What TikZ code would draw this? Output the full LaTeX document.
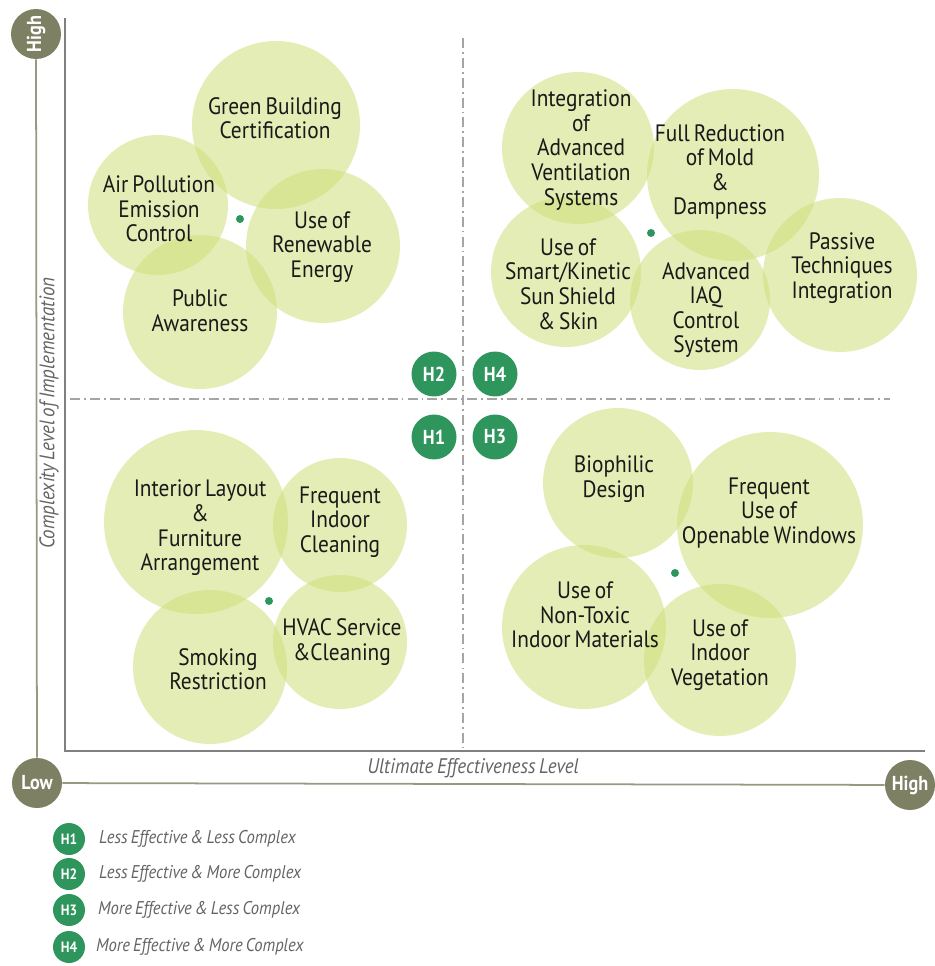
\documentclass[tikz,border=0pt]{standalone}
\usepackage{fontspec}
\setmainfont[FakeStretch=0.9, WordSpace=0.7]{PT Sans}
\definecolor{bubble}{RGB}{205,222,120}
\definecolor{hgreen}{RGB}{46,150,92}
\definecolor{olive}{RGB}{125,128,98}
\definecolor{framegray}{RGB}{128,128,128}
\definecolor{dashgray}{RGB}{165,165,165}
\definecolor{labgray}{RGB}{100,100,100}
\tikzset{bub/.style={circle, fill=bubble, fill opacity=.55, draw=none,
  minimum size=#1*0.4mm, inner sep=0pt}}
\tikzset{bubtxt/.style={align=center, text=black!90,
  font=\fontsize{13.5}{14}\selectfont}}
\tikzset{hbadge/.style={circle, fill=hgreen, text=white, inner sep=0pt,
  minimum size=9mm, font=\bfseries\fontsize{11.5}{11.5}\selectfont}}
\tikzset{legbadge/.style={hbadge, minimum size=6.4mm,
  font=\bfseries\fontsize{8.5}{8.5}\selectfont}}
\tikzset{axbadge/.style={circle, fill=olive, text=white, inner sep=0pt,
  minimum size=10mm, font=\bfseries\fontsize{11.5}{11.5}\selectfont}}
\tikzset{gdot/.style={circle, fill=hgreen, inner sep=0pt, minimum size=1.6mm}}
\tikzset{quad/.style={dashgray, line width=1pt,
  dash pattern=on 5.7pt off 2.3pt on 1pt off 2.3pt}}
\tikzset{axlab/.style={text=labgray, font=\itshape\fontsize{12}{12}\selectfont}}
\tikzset{legtxt/.style={text=labgray, anchor=west,
  font=\itshape\fontsize{10.5}{10.5}\selectfont}}

\begin{document}
\begin{tikzpicture}[x=0.02cm, y=-0.02cm]
\useasboundingbox (0,0) rectangle (935,966);

% axes
\node[axbadge, rotate=90] (hiy) at (36,34) {High};
\node[axbadge] (lo) at (37,783) {Low};
\node[axbadge] (hix) at (910,785) {High};
\coordinate (ftop) at (65,18);
\coordinate (fcorner) at (65,751);
\coordinate (fright) at (925,751);
\draw[olive!80, line width=1pt] (hiy) -- (lo);
\draw[olive!80, line width=1pt] (lo) -- (hix);
\draw[framegray, line width=1.1pt] (ftop) -- (fcorner) -- (fright);
\node[axlab] (xlab) at (473,768) {Ultimate Effectiveness Level};
\node[axlab, rotate=90] (ylab) at (49,413) {Complexity Level of Implementation};

% quadrant lines
\coordinate (vtop) at (463,38);
\coordinate (vbot) at (463,747);
\coordinate (hleft) at (70,399);
\coordinate (hright) at (890,399);
\draw[quad] (vtop) -- (vbot);
\draw[quad] (hleft) -- (hright);

% H2: top left
\node[bub=84] (gbc) at (276,125) {};
\node[bub=70] (apc) at (158,205) {};
\node[bub=77] (ure) at (323,246) {};
\node[bub=77] (paw) at (200,312) {};
\node[gdot] (d2) at (240,219) {};
\node[bubtxt] (gbc-t) at (275,118) {Green Building\\Certification};
\node[bubtxt] (apc-t) at (159,209) {Air Pollution\\Emission\\Control};
\node[bubtxt] (ure-t) at (322,247) {Use of\\Renewable\\Energy};
\node[bubtxt] (paw-t) at (200,311) {Public\\Awareness};

% H4: top right
\node[bub=76] (iav) at (578,148) {};
\node[bub=86] (frm) at (733,175) {};
\node[bub=75] (usk) at (566,272) {};
\node[bub=70] (iaq) at (700,300) {};
\node[bub=77] (pti) at (840,275) {};
\node[gdot] (d4) at (651,233) {};
\node[bubtxt] (iav-t) at (581,150) {Integration\\of\\Advanced\\Ventilation\\Systems};
\node[bubtxt] (frm-t) at (720,172) {Full Reduction\\of Mold\\\&\\Dampness};
\node[bubtxt] (usk-t) at (568,284) {Use of\\Smart/Kinetic\\Sun Shield\\\& Skin};
\node[bubtxt] (iaq-t) at (706,310) {Advanced\\IAQ\\Control\\System};
\node[bubtxt] (pti-t) at (842,268) {Passive\\Techniques\\Integration};

% H1: bottom left
\node[bub=92] (ilf) at (196,522) {};
\node[bub=67] (fic) at (340,525) {};
\node[bub=77] (smr) at (210,667) {};
\node[bub=67] (hvc) at (340,642) {};
\node[gdot] (d1) at (269,601) {};
\node[bubtxt] (ilf-t) at (200,528) {Interior Layout\\\&\\Furniture\\Arrangement};
\node[bubtxt] (fic-t) at (340,522) {Frequent\\Indoor\\Cleaning};
\node[bubtxt] (smr-t) at (218,669) {Smoking\\Restriction};
\node[bubtxt] (hvc-t) at (342,642) {HVAC Service\\\&Cleaning};

% H3: bottom right
\node[bub=75] (bio) at (618,483) {};
\node[bub=93] (fuw) at (770,525) {};
\node[bub=82] (ntm) at (584,627) {};
\node[bub=76] (uiv) at (720,660) {};
\node[gdot] (d3) at (675,573) {};
\node[bubtxt] (bio-t) at (614,479) {Biophilic\\Design};
\node[bubtxt] (fuw-t) at (769,513) {Frequent\\Use of\\Openable Windows};
\node[bubtxt] (ntm-t) at (585,615) {Use of\\Non-Toxic\\Indoor Materials};
\node[bubtxt] (uiv-t) at (720,655) {Use of\\Indoor\\Vegetation};

% quadrant badges
\node[hbadge] (h2) at (434,374) {H2};
\node[hbadge] (h4) at (495,374) {H4};
\node[hbadge] (h1) at (434,437) {H1};
\node[hbadge] (h3) at (495,437) {H3};

% legend
\node[legbadge] (l1) at (69,839) {H1};
\node[legbadge] (l2) at (69,874) {H2};
\node[legbadge] (l3) at (69,910) {H3};
\node[legbadge] (l4) at (69,947) {H4};
\node[legtxt] (l1-t) at (93,839) {Less Effective \& Less Complex};
\node[legtxt] (l2-t) at (93,874) {Less Effective \& More Complex};
\node[legtxt] (l3-t) at (92,910) {More Effective \& Less Complex};
\node[legtxt] (l4-t) at (90,947) {More Effective \& More Complex};

\end{tikzpicture}
\end{document}
